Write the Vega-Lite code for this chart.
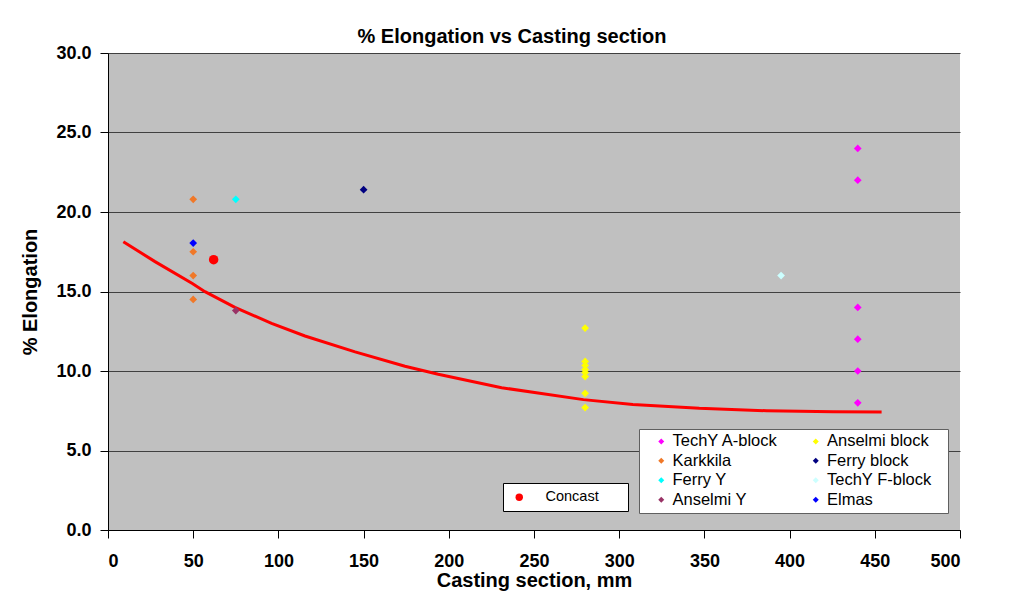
{
  "$schema": "https://vega.github.io/schema/vega-lite/v6.json",
  "autosize": {"type": "none"},
  "width": 852,
  "height": 477,
  "padding": {"left": 108, "top": 53, "right": 64, "bottom": 78},
  "background": "white",
  "title": {
    "text": "% Elongation vs Casting section",
    "frame": "group",
    "font": "Liberation Sans",
    "fontSize": 20,
    "fontWeight": "bold",
    "color": "black",
    "anchor": "middle",
    "baseline": "alphabetic",
    "offset": 9,
    "dx": -22,
    "dy": 28
  },
  "config": {
    "view": {"fill": "#C0C0C0", "stroke": null},
    "axis": {
      "labelFont": "Liberation Sans",
      "labelFontSize": 18,
      "labelFontWeight": "bold",
      "labelColor": "black",
      "titleFont": "Liberation Sans",
      "titleFontSize": 20,
      "titleFontWeight": "bold",
      "titleColor": "black",
      "domainColor": "black",
      "tickColor": "black",
      "tickSize": 8,
      "gridColor": "#404040",
      "gridOpacity": 1
    }
  },
  "datasets": {
    "curve": [
      {"section": 9, "elong": 18.13},
      {"section": 27.6, "elong": 16.88},
      {"section": 49.5, "elong": 15.5},
      {"section": 56.9, "elong": 14.99},
      {"section": 74.5, "elong": 14.0},
      {"section": 96, "elong": 13.0},
      {"section": 115.6, "elong": 12.2},
      {"section": 145, "elong": 11.2},
      {"section": 174.3, "elong": 10.3},
      {"section": 193.8, "elong": 9.8},
      {"section": 231, "elong": 8.95},
      {"section": 279, "elong": 8.2},
      {"section": 308, "elong": 7.9},
      {"section": 347, "elong": 7.65},
      {"section": 386.5, "elong": 7.5},
      {"section": 425.6, "elong": 7.44},
      {"section": 454, "elong": 7.42}
    ],
    "points": [
      {"section": 440, "elong": 24.0, "series": "TechY A-block"},
      {"section": 440, "elong": 22.0, "series": "TechY A-block"},
      {"section": 440, "elong": 14.0, "series": "TechY A-block"},
      {"section": 440, "elong": 12.0, "series": "TechY A-block"},
      {"section": 440, "elong": 10.0, "series": "TechY A-block"},
      {"section": 440, "elong": 8.0, "series": "TechY A-block"},
      {"section": 50, "elong": 20.8, "series": "Karkkila"},
      {"section": 50, "elong": 17.5, "series": "Karkkila"},
      {"section": 50, "elong": 16.0, "series": "Karkkila"},
      {"section": 50, "elong": 14.5, "series": "Karkkila"},
      {"section": 75, "elong": 20.8, "series": "Ferry Y"},
      {"section": 75, "elong": 13.8, "series": "Anselmi Y"},
      {"section": 280, "elong": 12.7, "series": "Anselmi block"},
      {"section": 280, "elong": 10.6, "series": "Anselmi block"},
      {"section": 280, "elong": 10.35, "series": "Anselmi block"},
      {"section": 280, "elong": 10.1, "series": "Anselmi block"},
      {"section": 280, "elong": 9.9, "series": "Anselmi block"},
      {"section": 280, "elong": 9.65, "series": "Anselmi block"},
      {"section": 280, "elong": 8.6, "series": "Anselmi block"},
      {"section": 280, "elong": 7.7, "series": "Anselmi block"},
      {"section": 150, "elong": 21.4, "series": "Ferry block"},
      {"section": 395, "elong": 16.0, "series": "TechY F-block"},
      {"section": 50, "elong": 18.05, "series": "Elmas"}
    ],
    "concast": [
      {"section": 62, "elong": 17.0, "series": "Concast"}
    ]
  },
  "layer": [
    {
      "data": {"name": "curve"},
      "mark": {"type": "line", "color": "#FF0000", "strokeWidth": 3},
      "encoding": {
        "x": {
          "field": "section", "type": "quantitative",
          "scale": {"domain": [0, 500], "nice": false, "zero": true},
          "axis": {
            "title": "Casting section, mm",
            "values": [0, 50, 100, 150, 200, 250, 300, 350, 400, 450, 500],
            "grid": false,
            "labelPadding": 14,
            "titlePadding": 0
          }
        },
        "y": {
          "field": "elong", "type": "quantitative",
          "scale": {"domain": [0, 30], "nice": false},
          "axis": {
            "title": "% Elongation",
            "values": [0, 5, 10, 15, 20, 25, 30],
            "format": ".1f",
            "grid": true,
            "labelPadding": 9,
            "titlePadding": 15
          }
        }
      }
    },
    {
      "data": {"name": "points"},
      "mark": {"type": "point", "shape": "diamond", "filled": true, "size": 60, "opacity": 1, "strokeWidth": 0},
      "encoding": {
        "x": {"field": "section", "type": "quantitative"},
        "y": {"field": "elong", "type": "quantitative"},
        "color": {
          "field": "series", "type": "nominal",
          "scale": {
            "domain": ["TechY A-block", "Karkkila", "Ferry Y", "Anselmi Y", "Anselmi block", "Ferry block", "TechY F-block", "Elmas"],
            "range": ["#FF00FF", "#F07828", "#00FFFF", "#993366", "#FFFF00", "#000080", "#CCFFFF", "#0000FF"]
          },
          "legend": {
            "orient": "none",
            "legendX": 531,
            "legendY": 376,
            "columns": 2,
            "title": " ",
            "titleOrient": "left",
            "titleFontSize": 15,
            "titlePadding": 10,
            "padding": 4,
            "fillColor": "white",
            "strokeColor": "#606060",
            "symbolType": "diamond",
            "symbolSize": 36,
            "symbolStrokeWidth": 0,
            "symbolOpacity": 1,
            "labelFont": "Liberation Sans",
            "labelFontSize": 16.5,
            "labelColor": "black",
            "labelOffset": 3,
            "labelExpr": "datum.label + '\u2800'",
            "rowPadding": 2.5,
            "columnPadding": 17.5
          }
        }
      }
    },
    {
      "data": {"name": "concast"},
      "mark": {"type": "point", "shape": "circle", "filled": true, "size": 90, "opacity": 1, "strokeWidth": 0},
      "encoding": {
        "x": {"field": "section", "type": "quantitative"},
        "y": {"field": "elong", "type": "quantitative"},
        "color": {
          "field": "series", "type": "nominal",
          "scale": {"domain": ["Concast"], "range": ["#FF0000"]},
          "legend": {
            "orient": "none",
            "legendX": 395,
            "legendY": 430,
            "title": " ",
            "titleOrient": "left",
            "titleFontSize": 14,
            "titlePadding": 2,
            "padding": 7,
            "fillColor": "white",
            "strokeColor": "black",
            "symbolType": "circle",
            "symbolSize": 55,
            "symbolStrokeWidth": 0,
            "symbolOpacity": 1,
            "labelFont": "Liberation Sans",
            "labelFontSize": 14.5,
            "labelColor": "black",
            "labelOffset": 19,
            "labelExpr": "datum.label + '\u2800\u2800'"
          }
        }
      }
    }
  ],
  "resolve": {"scale": {"color": "independent"}, "legend": {"color": "independent"}}
}
